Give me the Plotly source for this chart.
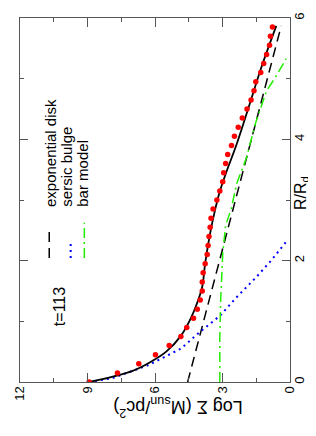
import plotly.graph_objects as go

# Observed surface density profile (red dots)
R_obs = [0.00, 0.15, 0.30, 0.45, 0.60, 0.75, 0.90, 1.05, 1.20, 1.35,
         1.50, 1.65, 1.80, 1.95, 2.10, 2.25, 2.40, 2.55, 2.70, 2.85,
         3.00, 3.15, 3.30, 3.45, 3.60, 3.75, 3.90, 4.05, 4.20, 4.35,
         4.50, 4.65, 4.80, 4.95, 5.10, 5.25, 5.40, 5.55, 5.70, 5.85]
S_obs = [8.93, 7.67, 6.72, 5.98, 5.37, 4.85, 4.59, 4.29, 4.12, 3.99,
         3.90, 3.90, 3.86, 3.77, 3.68, 3.64, 3.60, 3.55, 3.51, 3.42,
         3.25, 3.12, 2.99, 2.95, 2.86, 2.77, 2.60, 2.47, 2.30, 2.12,
         1.91, 1.73, 1.60, 1.52, 1.30, 1.17, 1.04, 0.91, 0.87, 0.78]

# Total model (solid black)
R_tot = [0.00, 0.18, 0.34, 0.50, 0.76, 1.04, 1.31, 1.57, 1.96, 2.45,
         2.82, 3.14, 3.47, 3.91, 4.55, 5.20, 5.87]
S_tot = [8.93, 7.02, 6.15, 5.50, 4.85, 4.42, 4.12, 3.90, 3.77, 3.55,
         3.34, 3.12, 2.82, 2.38, 1.82, 1.26, 0.61]

# Exponential disk (black dashed)
R_disk = [0.00, 5.87]
S_disk = [4.55, 0.39]

# Sersic bulge (blue dotted)
R_blg = [0.00, 0.065, 0.18, 0.28, 0.41, 0.55, 0.83, 1.09, 1.41, 1.72, 2.01, 2.35]
S_blg = [8.93, 7.89, 7.02, 6.28, 5.59, 4.85, 3.99, 3.12, 2.34, 1.52, 0.82, 0.09]

# Bar model (green dash-dot)
R_bar = [0.00, 0.72, 1.36, 2.12, 2.58, 2.87, 3.26, 3.68, 4.28, 4.80, 5.02, 5.33]
S_bar = [3.12, 3.12, 3.08, 2.99, 2.86, 2.60, 2.38, 1.95, 1.52, 1.04, 0.65, 0.17]

legend_labels = ["exponential disk", "sersic bulge", "bar model"]
time_label = "t=113"

FONT = "Liberation Sans, Arial, sans-serif"
AX = "#555555"
GREEN = "#22ee00"

fig = go.Figure()
fig.add_trace(go.Scatter(x=S_disk, y=R_disk, mode="lines",
                         line=dict(color="black", width=1.5, dash="10px,6px")))
fig.add_trace(go.Scatter(x=S_blg, y=R_blg, mode="lines",
                         line=dict(color="#0000ff", width=2, dash="2px,4px")))
fig.add_trace(go.Scatter(x=S_bar, y=R_bar, mode="lines",
                         line=dict(color=GREEN, width=1.5, dash="10px,4px,2px,4px")))
fig.add_trace(go.Scatter(x=S_tot, y=R_tot, mode="lines", line_shape="spline",
                         line=dict(color="black", width=1.8)))
fig.add_trace(go.Scatter(x=S_obs, y=R_obs, mode="markers",
                         marker=dict(color="#ff0000", size=5.5)))

fig.update_layout(
    width=316, height=436,
    margin=dict(l=5, r=34, t=4, b=62),
    paper_bgcolor="white", plot_bgcolor="white",
    showlegend=False,
    font=dict(family=FONT, size=12, color="black"),
)
fig.update_xaxes(
    range=[12, 0], tick0=0, dtick=3, ticks="inside", ticklen=9, tickcolor=AX,
    minor=dict(ticks="inside", dtick=1.5, ticklen=4, tickcolor=AX),
    showline=True, linecolor=AX, linewidth=1, mirror="ticks",
    showgrid=False, zeroline=False, tickangle=-90,
    ticklabeloverflow="allow", ticklabelstandoff=-2,
    tickfont=dict(size=13, family=FONT),
)
fig.update_yaxes(
    range=[0, 6], tick0=0, dtick=2, ticks="inside", ticklen=8, tickcolor=AX,
    minor=dict(ticks="inside", dtick=1, ticklen=4, tickcolor=AX),
    showline=True, linecolor=AX, linewidth=1, mirror="ticks",
    showgrid=False, zeroline=False, side="right", tickangle=-90,
    ticklabeloverflow="allow", ticklabelstandoff=-3,
    tickfont=dict(size=13, family=FONT),
)

def px_x(px):
    return (px - 5) / 277.0

def px_y(py):
    return (374 - py) / 370.0

# axis titles
fig.add_annotation(text="Log \u03a3 (M<sub>sun</sub>/pc<sup>2</sup>)", textangle=180,
                   xref="paper", yref="paper", x=px_x(167), y=px_y(414),
                   showarrow=False, font=dict(size=18, family=FONT))
fig.add_annotation(text="R/R<sub>d</sub>", textangle=-90,
                   xref="paper", yref="paper", x=px_x(305), y=px_y(182),
                   showarrow=False, font=dict(size=16, family=FONT))

# time label
fig.add_annotation(text=time_label, textangle=-90,
                   xref="paper", yref="paper", x=px_x(35), y=px_y(319),
                   showarrow=False, font=dict(size=16, family=FONT))

# legend text
for lab, xp in zip(legend_labels, [37, 53, 69]):
    fig.add_annotation(text=lab, textangle=-90, xref="paper", yref="paper",
                       x=px_x(xp), y=px_y(198), xanchor="center", yanchor="bottom",
                       showarrow=False, font=dict(size=15, family=FONT))

# legend samples
fig.add_shape(type="line", xref="paper", yref="paper",
              x0=px_x(35), x1=px_x(35), y0=px_y(248), y1=px_y(218),
              line=dict(color="black", width=1.5, dash="10px,6px"))
fig.add_shape(type="line", xref="paper", yref="paper",
              x0=px_x(57), x1=px_x(57), y0=px_y(248), y1=px_y(233),
              line=dict(color="#0000ff", width=2, dash="2px,4px"))
fig.add_shape(type="line", xref="paper", yref="paper",
              x0=px_x(71), x1=px_x(71), y0=px_y(248), y1=px_y(212),
              line=dict(color=GREEN, width=1.5, dash="10px,4px,2px,4px"))

fig.write_html("out.html")
